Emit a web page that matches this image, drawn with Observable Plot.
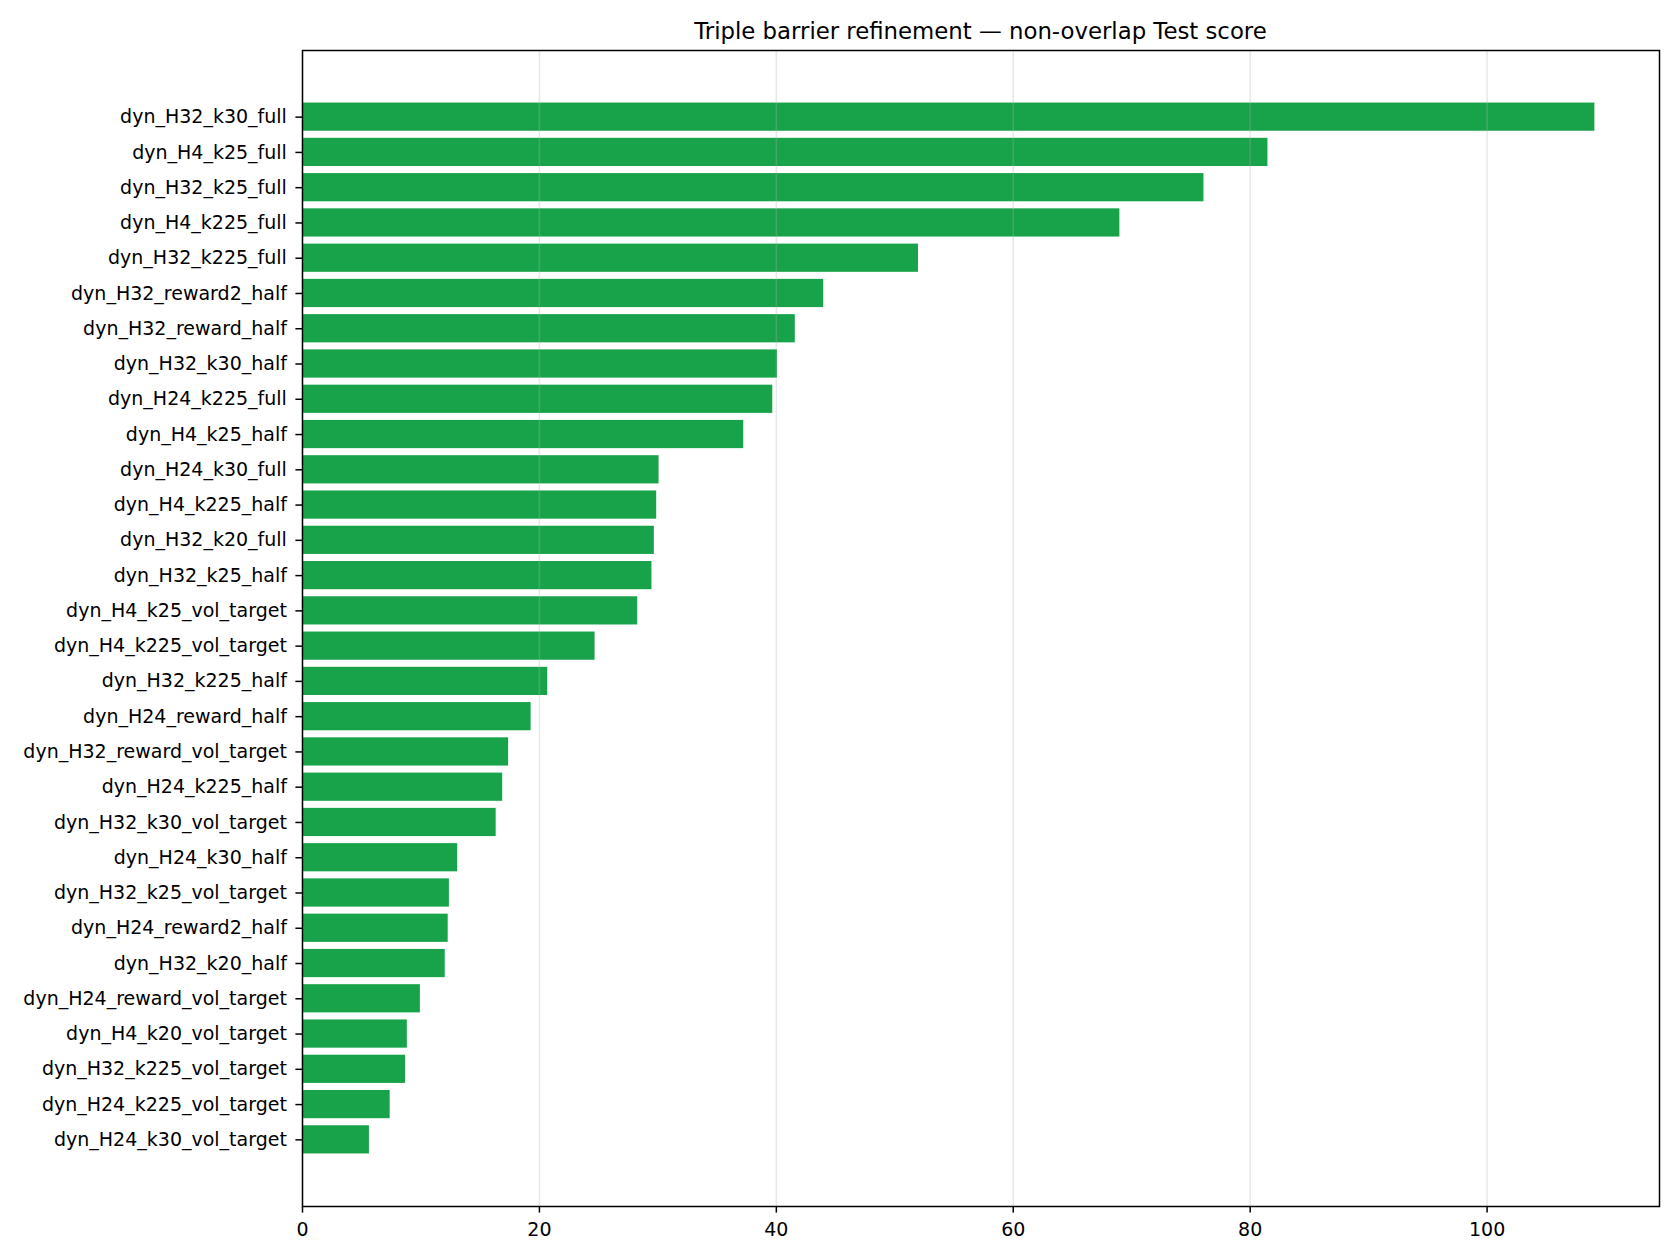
<!DOCTYPE html>
<html><head><meta charset="utf-8">
<script src="https://cdn.jsdelivr.net/npm/d3@7"></script>
<script src="https://cdn.jsdelivr.net/npm/@observablehq/plot@0.6"></script>
<style>
body{margin:0;background:#fff;}
#title{height:44px;box-sizing:border-box;padding-top:19.5px;margin-left:302px;width:1357px;text-align:center;font-family:"DejaVu Sans";font-size:22.8px;line-height:23px;color:#000;white-space:nowrap;}
</style></head><body>
<div id="title">Triple barrier refinement — non-overlap Test score</div>
<div id="chart"></div>
<script>
const configs = [
  "dyn_H32_k30_full","dyn_H4_k25_full","dyn_H32_k25_full","dyn_H4_k225_full","dyn_H32_k225_full",
  "dyn_H32_reward2_half","dyn_H32_reward_half","dyn_H32_k30_half","dyn_H24_k225_full","dyn_H4_k25_half",
  "dyn_H24_k30_full","dyn_H4_k225_half","dyn_H32_k20_full","dyn_H32_k25_half","dyn_H4_k25_vol_target",
  "dyn_H4_k225_vol_target","dyn_H32_k225_half","dyn_H24_reward_half","dyn_H32_reward_vol_target","dyn_H24_k225_half",
  "dyn_H32_k30_vol_target","dyn_H24_k30_half","dyn_H32_k25_vol_target","dyn_H24_reward2_half","dyn_H32_k20_half",
  "dyn_H24_reward_vol_target","dyn_H4_k20_vol_target","dyn_H32_k225_vol_target","dyn_H24_k225_vol_target","dyn_H24_k30_vol_target"
];
const scores = [
  109.1, 81.5, 76.1, 69.0, 52.0,
  44.0, 41.6, 40.1, 39.7, 37.25,
  30.1, 29.9, 29.7, 29.5, 28.3,
  24.7, 20.7, 19.3, 17.4, 16.9,
  16.35, 13.1, 12.4, 12.3, 12.05,
  9.95, 8.85, 8.7, 7.4, 5.65
];
const xTicks = [0, 20, 40, 60, 80, 100];
const titleText = "Triple barrier refinement — non-overlap Test score";

document.getElementById("title").textContent = titleText;
const data = configs.map((c, i) => ({config: c, score: scores[i]}));
const xMax = d3.max(scores) * 1.05;

const plot = Plot.plot({
  width: 1680,
  height: 1216,
  marginTop: 6,
  marginBottom: 54,
  marginLeft: 302,
  marginRight: 21,
  style: {fontFamily: "DejaVu Sans", fontSize: "19px", background: "#fff", color: "#000"},
  x: {domain: [0, xMax], label: null},
  y: {domain: configs, paddingInner: 0.2, paddingOuter: 1.49, align: 0.5, round: false, label: null},
  marks: [
    Plot.barX(data, {x: "score", y: "config", fill: "#18a34a"}),
    Plot.gridX(xTicks, {stroke: "#b0b0b0", strokeOpacity: 0.3, strokeWidth: 1.5}),
    Plot.axisX(xTicks, {tickSize: 6.6, tickPadding: 9, strokeWidth: 1.5, label: null}),
    Plot.axisY({tickSize: 6.6, tickPadding: 9, strokeWidth: 1.5, label: null}),
    Plot.frame({stroke: "#000", strokeWidth: 1.5})
  ]
});
document.getElementById("chart").appendChild(plot);
</script>
</body></html>
